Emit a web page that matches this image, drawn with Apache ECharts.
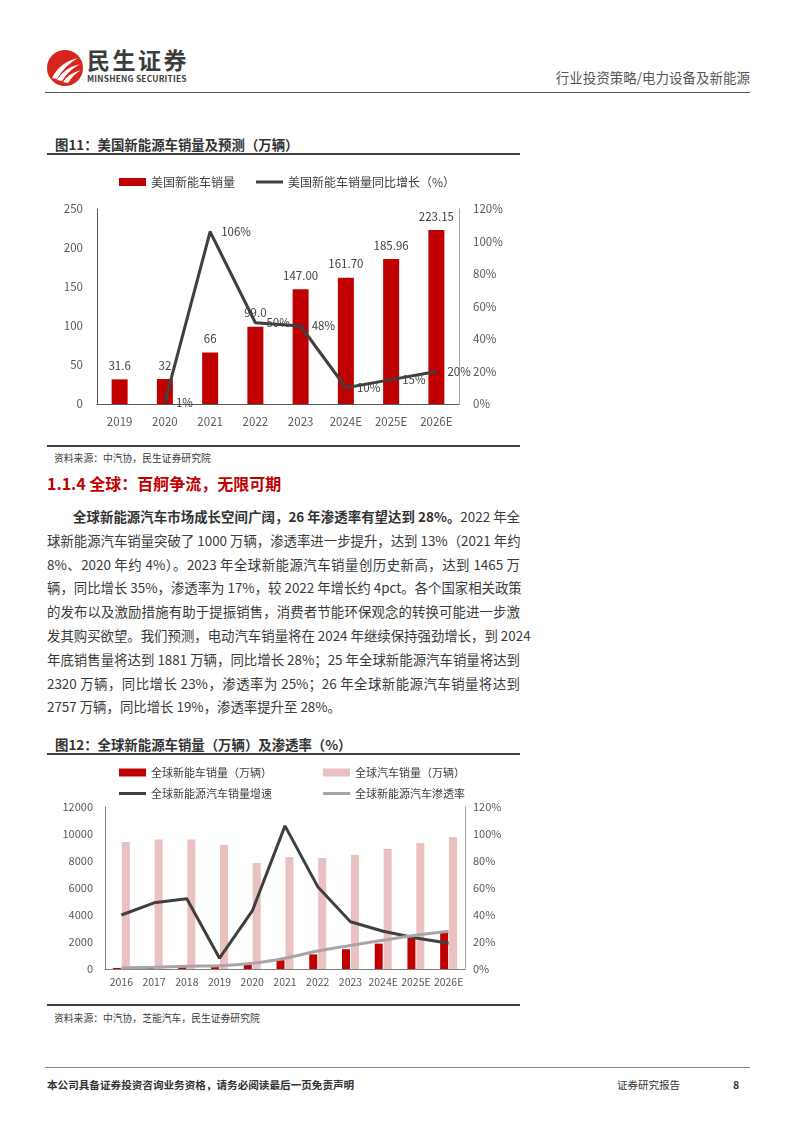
<!DOCTYPE html>
<html>
<head>
<meta charset="utf-8">
<script src="https://cdn.jsdelivr.net/npm/echarts@6/dist/echarts.min.js"></script>
<style>
  html, body { margin:0; padding:0; background:#fff; }
  body { width:794px; height:1123px; position:relative; overflow:hidden; font-family:"Noto Sans CJK SC","Noto Sans",sans-serif; color:#3a3a3a; }
  .abs { position:absolute; }
  .hline { position:absolute; height:0; }
  .ttl { position:absolute; font-size:13.4px; font-weight:bold; color:#333; white-space:nowrap; line-height:16px; }
  .src { position:absolute; font-size:9.8px; color:#404040; white-space:nowrap; line-height:12px; }
  .para { position:absolute; left:47px; top:505px; width:473px; font-size:13.4px; color:#3a3a3a; }
  .para .ln { height:23.8px; line-height:23.8px; white-space:nowrap; text-align:justify; text-align-last:justify; }
  .para .ln.last { text-align-last:left; }
  .para b { font-weight:bold; color:#333; }
</style>
</head>
<body>
<!-- header -->
<svg class="abs" style="left:46px;top:48px" width="40" height="40" viewBox="0 0 40 40">
  <circle cx="19" cy="20" r="18" fill="#d7261e"/>
  <path d="M6 30 Q14 14 32 10 Q18 18 11 31 Z" fill="#fff"/>
  <path d="M11 32 Q18 20 34 16 Q22 23 16 33 Z" fill="#fff"/>
  <path d="M17 34 Q23 25 35 22 Q27 27 22 35 Z" fill="#fff"/>
</svg>
<div class="abs" style="left:87px;top:45px;font-size:23px;font-weight:bold;color:#3c3c3c;letter-spacing:2.5px;line-height:28px;">民生证券</div>
<div class="abs" style="left:87px;top:73px;font-size:8.4px;font-weight:bold;color:#3c3c3c;line-height:10px;letter-spacing:0.2px;">MINSHENG SECURITIES</div>
<div class="abs" style="right:44px;top:68px;font-size:13.5px;color:#555;line-height:18px;white-space:nowrap;">行业投资策略/电力设备及新能源</div>
<div class="hline" style="left:45px;top:92px;width:705px;border-top:1px solid #555;"></div>

<!-- figure 11 -->
<div class="ttl" style="left:55px;top:136px;">图11：美国新能源车销量及预测（万辆）</div>
<div class="hline" style="left:47px;top:153px;width:473px;border-top:2px solid #404040;"></div>
<div id="c1" class="abs" style="left:40px;top:160px;width:500px;height:280px;"></div>
<div class="hline" style="left:47px;top:445px;width:473px;border-top:2px solid #404040;"></div>
<div class="src" style="left:54px;top:452px;">资料来源：中汽协，民生证券研究院</div>

<div class="abs" style="left:47px;top:473px;font-size:16px;font-weight:bold;color:#c00000;line-height:21px;white-space:nowrap;">1.1.4 全球：百舸争流，无限可期</div>

<div class="para">
  <div class="ln" style="padding-left:26px;"><b>全球新能源汽车市场成长空间广阔，26 年渗透率有望达到 28%。</b>2022 年全</div>
  <div class="ln">球新能源汽车销量突破了 1000 万辆，渗透率进一步提升，达到 13%（2021 年约</div>
  <div class="ln">8%、2020 年约 4%）。2023 年全球新能源汽车销量创历史新高，达到 1465 万</div>
  <div class="ln">辆，同比增长 35%，渗透率为 17%，较 2022 年增长约 4pct。各个国家相关政策</div>
  <div class="ln">的发布以及激励措施有助于提振销售，消费者节能环保观念的转换可能进一步激</div>
  <div class="ln">发其购买欲望。我们预测，电动汽车销量将在 2024 年继续保持强劲增长，到 2024</div>
  <div class="ln">年底销售量将达到 1881 万辆，同比增长 28%；25 年全球新能源汽车销量将达到</div>
  <div class="ln">2320 万辆，同比增长 23%，渗透率为 25%；26 年全球新能源汽车销量将达到</div>
  <div class="ln last">2757 万辆，同比增长 19%，渗透率提升至 28%。</div>
</div>

<!-- figure 12 -->
<div class="ttl" style="left:55px;top:736px;">图12：全球新能源车销量（万辆）及渗透率（%）</div>
<div class="hline" style="left:47px;top:753px;width:473px;border-top:2px solid #404040;"></div>
<div id="c2" class="abs" style="left:40px;top:760px;width:500px;height:240px;"></div>
<div class="hline" style="left:47px;top:1004px;width:473px;border-top:2px solid #404040;"></div>
<div class="src" style="left:54px;top:1012px;">资料来源：中汽协，芝能汽车，民生证券研究院</div>

<!-- footer -->
<div class="hline" style="left:45px;top:1067px;width:705px;border-top:1px solid #888;"></div>
<div class="abs" style="left:47px;top:1078px;font-size:10.6px;font-weight:bold;color:#333;line-height:14px;white-space:nowrap;">本公司具备证券投资咨询业务资格，请务必阅读最后一页免责声明</div>
<div class="abs" style="left:617px;top:1078px;font-size:10.5px;color:#333;line-height:14px;white-space:nowrap;">证券研究报告</div>
<div class="abs" style="left:733px;top:1078px;font-size:10.5px;font-weight:bold;color:#333;line-height:14px;">8</div>

<script>
// ---- Figure 11 data: US NEV sales ----
const usYears = ['2019', '2020', '2021', '2022', '2023', '2024E', '2025E', '2026E'];
const usSales = [31.6, 32, 66, 99.0, 147.00, 161.70, 185.96, 223.15];
const usSalesLabels = ['31.6', '32', '66', '99.0', '147.00', '161.70', '185.96', '223.15'];
const usGrowth = [null, 1, 106, 50, 48, 10, 15, 20];
const usLeftTicks = { min: 0, max: 250, interval: 50 };
const usRightTicks = { min: 0, max: 120, interval: 20 };

// ---- Figure 12 data: global NEV sales & penetration ----
const gYears = ['2016', '2017', '2018', '2019', '2020', '2021', '2022', '2023', '2024E', '2025E', '2026E'];
const gNev = [77, 122, 201, 221, 324, 650, 1082, 1465, 1881, 2320, 2757];
const gCars = [9400, 9600, 9600, 9180, 7850, 8300, 8220, 8440, 8890, 9330, 9780];
const gGrowth = [40, 49, 52, 8, 43, 106, 61, 35, 28, 23, 19];
const gPen = [0.8, 1.3, 2.1, 2.4, 4.2, 8.0, 13.3, 17.4, 21.3, 25, 28];
const gLeftTicks = { min: 0, max: 12000, interval: 2000 };
const gRightTicks = { min: 0, max: 120, interval: 20 };

const FONT = '"Noto Sans CJK SC", "Noto Sans", sans-serif';
const RED = '#c00000', PINK = '#ebc0c1', DARK = '#404040', GRAY = '#a6a6a6';
const LBL = '#595959';

const c1 = echarts.init(document.getElementById('c1'), null, { renderer: 'canvas' });
const legTxt1 = { fontSize: 12, color: DARK, fontFamily: FONT };
c1.setOption({
  animation: false,
  textStyle: { fontFamily: FONT },
  legend: [
    { data: ['美国新能车销量'], left: 79, top: 16, padding: 0, icon: 'rect', itemWidth: 27, itemHeight: 8, itemGap: 0, textStyle: legTxt1 },
    { data: ['美国新能车销量同比增长（%）'], left: 216, top: 16, padding: 0, icon: 'rect', itemWidth: 27, itemHeight: 3, textStyle: legTxt1 }
  ],
  grid: { left: 57, right: 81, top: 49, height: 195 },
  xAxis: {
    type: 'category', data: usYears,
    axisLine: { lineStyle: { color: '#595959', width: 1 } },
    axisTick: { show: false },
    axisLabel: { fontSize: 11.5, color: LBL, margin: 12, interval: 0 }
  },
  yAxis: [
    { type: 'value', min: usLeftTicks.min, max: usLeftTicks.max, interval: usLeftTicks.interval,
      axisLine: { show: true, lineStyle: { color: '#595959' } }, axisTick: { show: false },
      splitLine: { show: false }, axisLabel: { fontSize: 11.5, color: LBL, margin: 14 } },
    { type: 'value', position: 'right', min: usRightTicks.min, max: usRightTicks.max, interval: usRightTicks.interval,
      axisLine: { show: true, lineStyle: { color: '#a6a6a6' } }, axisTick: { show: false },
      splitLine: { show: false }, axisLabel: { fontSize: 11.5, color: LBL, margin: 14, formatter: '{value}%' } }
  ],
  series: [
    { type: 'bar', name: '美国新能车销量', data: usSales, barWidth: 16,
      itemStyle: { color: RED },
      label: { show: true, position: 'top', distance: 8, fontSize: 11.5, color: DARK,
        formatter: p => usSalesLabels[p.dataIndex] } },
    { type: 'line', name: '美国新能车销量同比增长（%）', yAxisIndex: 1, data: usGrowth,
      symbol: 'circle', symbolSize: 2, lineStyle: { color: DARK, width: 3 }, itemStyle: { color: DARK },
      label: { show: true, position: 'right', distance: 10, fontSize: 11.5, color: DARK,
        formatter: p => p.value + '%' } }
  ]
});

const c2 = echarts.init(document.getElementById('c2'), null, { renderer: 'canvas' });
const legTxt = { fontSize: 11, color: DARK, fontFamily: FONT };
c2.setOption({
  animation: false,
  textStyle: { fontFamily: FONT },
  legend: [
    { data: ['全球新能车销量（万辆）'], left: 79, top: 7, padding: 0, icon: 'rect', itemWidth: 27, itemHeight: 8, textStyle: legTxt },
    { data: ['全球汽车销量（万辆）'], left: 283, top: 7, padding: 0, icon: 'rect', itemWidth: 27, itemHeight: 8, textStyle: legTxt },
    { data: ['全球新能源汽车销量增速'], left: 79, top: 28, padding: 0, icon: 'rect', itemWidth: 27, itemHeight: 3, textStyle: legTxt },
    { data: ['全球新能源汽车渗透率'], left: 283, top: 28, padding: 0, icon: 'rect', itemWidth: 27, itemHeight: 3, textStyle: legTxt }
  ],
  grid: { left: 65, right: 75, top: 47, height: 162 },
  xAxis: {
    type: 'category', data: gYears,
    axisLine: { lineStyle: { color: '#808080', width: 1 } },
    axisTick: { show: false },
    axisLabel: { fontSize: 10.5, color: LBL, margin: 8, interval: 0, hideOverlap: false }
  },
  yAxis: [
    { type: 'value', min: gLeftTicks.min, max: gLeftTicks.max, interval: gLeftTicks.interval,
      axisLine: { show: true, lineStyle: { color: '#808080' } }, axisTick: { show: false },
      splitLine: { show: false }, axisLabel: { fontSize: 11, color: LBL, margin: 12, formatter: v => String(v) } },
    { type: 'value', position: 'right', min: gRightTicks.min, max: gRightTicks.max, interval: gRightTicks.interval,
      axisLine: { show: true, lineStyle: { color: '#a0a0a0' } }, axisTick: { show: false },
      splitLine: { show: false }, axisLabel: { fontSize: 11, color: LBL, margin: 8, formatter: '{value}%' } }
  ],
  series: [
    { type: 'bar', name: '全球新能车销量（万辆）', data: gNev, barWidth: 8, barGap: '12%', itemStyle: { color: RED } },
    { type: 'bar', name: '全球汽车销量（万辆）', data: gCars, barWidth: 8, barGap: '12%', itemStyle: { color: PINK } },
    { type: 'line', name: '全球新能源汽车销量增速', yAxisIndex: 1, data: gGrowth, showSymbol: false,
      lineStyle: { color: DARK, width: 3 }, itemStyle: { color: DARK } },
    { type: 'line', name: '全球新能源汽车渗透率', yAxisIndex: 1, data: gPen, showSymbol: false, smooth: 0.3,
      lineStyle: { color: GRAY, width: 3 }, itemStyle: { color: GRAY } }
  ]
});
</script>
</body>
</html>
